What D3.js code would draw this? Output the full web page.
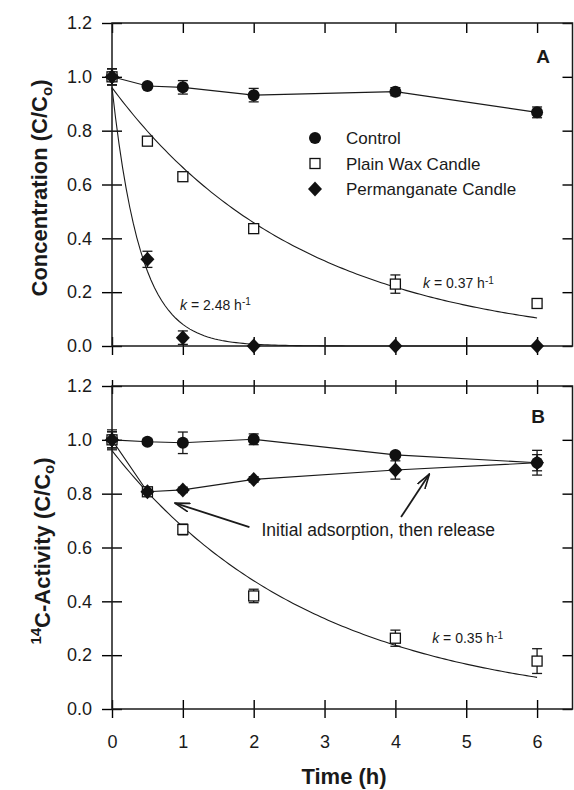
<!DOCTYPE html>
<html>
<head>
<meta charset="utf-8">
<script src="https://cdn.jsdelivr.net/npm/d3@7"></script>
<style>
  body { margin: 0; background: #fff; }
  text { font-family: "Liberation Sans", Arial, sans-serif; fill: #1a1a1a; }
</style>
</head>
<body>
<div id="chart"></div>
<script>
// sampling times (h)
var times = [0, 0.5, 1, 2, 4, 6];

// panel A: concentration C/Co
var concControl = [1.0, 0.966, 0.961, 0.932, 0.945, 0.868];
var concControlErr = [0.03, 0.01, 0.025, 0.025, 0.015, 0.02];
var concWax = [1.0, 0.761, 0.629, 0.436, 0.230, 0.158];
var concWaxErr = [0.03, 0.01, 0.01, 0.01, 0.034, 0.01];
var concPerm = [1.0, 0.322, 0.031, 0.0, 0.0, 0.0];
var concPermErr = [0.03, 0.03, 0.025, 0, 0, 0];

// panel B: 14C activity C/Co
var actControl = [1.0, 0.993, 0.989, 1.002, 0.944, 0.915];
var actControlErr = [0.037, 0.01, 0.04, 0.02, 0.01, 0.046];
var actWax = [1.0, 0.807, 0.667, 0.420, 0.263, 0.178];
var actWaxErr = [0.03, 0.01, 0.02, 0.025, 0.03, 0.046];
var actPerm = [1.0, 0.807, 0.814, 0.853, 0.888, 0.915];
var actPermErr = [0.03, 0.015, 0.01, 0.01, 0.034, 0.03];

// first-order fits, C = a0 * exp(-k t)
var fitWaxA = { a0: 0.96, k: 0.37 };
var fitPermA = { a0: 0.96, k: 2.48 };
var fitWaxB = { a0: 0.96, k: 0.35 };

var yTicks = [0, 0.2, 0.4, 0.6, 0.8, 1.0, 1.2];
var xTicks = [0, 1, 2, 3, 4, 5, 6];
var legendNames = ["Control", "Plain Wax Candle", "Permanganate Candle"];

var width = 574, height = 790;
var left = 112, right = 572.5;

var svg = d3.select("#chart").append("svg")
    .attr("width", width)
    .attr("height", height);

var x = d3.scaleLinear().domain([0, 6.5]).range([left, right]);
var yA = d3.scaleLinear().domain([0, 1.2]).range([346, 23]);
var yB = d3.scaleLinear().domain([0, 1.2]).range([709, 386]);

function diamondPath(cx, cy) {
    var w = 7, h = 7.5;
    return "M" + cx + "," + (cy - h) + "L" + (cx + w) + "," + cy + "L" + cx + "," + (cy + h) + "L" + (cx - w) + "," + cy + "Z";
}

function fitCurve(f) {
    return d3.range(0, 6.001, 0.05).map(function (t) { return [t, f.a0 * Math.exp(-f.k * t)]; });
}

function drawFrame(y, isBottom) {
    var g = svg.append("g");
    // left axis, ticks crossing
    var ax = g.append("g").attr("transform", "translate(" + left + ",0)")
        .call(d3.axisLeft(y).tickValues(yTicks).tickFormat(d3.format(".1f")).tickSizeInner(10).tickSizeOuter(0).tickPadding(10));
    ax.selectAll(".tick line").attr("x1", 10).attr("stroke-width", 1.4);
    ax.selectAll(".tick text").style("font-size", "18px").attr("fill", "#1a1a1a");
    ax.select(".domain").remove();
    // right axis, inside ticks
    var ar = g.append("g").attr("transform", "translate(" + right + ",0)")
        .call(d3.axisRight(y).tickValues(yTicks).tickSizeInner(-10).tickSizeOuter(0).tickFormat(""));
    ar.selectAll(".tick line").attr("stroke-width", 1.4);
    ar.select(".domain").remove();
    // bottom axis, ticks crossing; labels only on the lower panel
    var ab = g.append("g").attr("transform", "translate(0," + y(0) + ")")
        .call(d3.axisBottom(x).tickValues(xTicks).tickSizeInner(9).tickSizeOuter(0).tickPadding(17)
            .tickFormat(isBottom ? d3.format("d") : ""));
    ab.selectAll(".tick line").attr("y1", -9).attr("stroke-width", 1.4);
    ab.selectAll(".tick text").style("font-size", "18px").attr("fill", "#1a1a1a");
    ab.select(".domain").remove();
    // top axis
    var at = g.append("g").attr("transform", "translate(0," + y(1.2) + ")")
        .call(d3.axisTop(x).tickValues(xTicks).tickSizeInner(isBottom ? 6 : -10).tickSizeOuter(0).tickFormat(""));
    at.selectAll(".tick line").attr("stroke-width", 1.4);
    if (isBottom) at.selectAll(".tick line").attr("y1", 8);
    at.select(".domain").remove();
    g.append("rect")
        .attr("x", left).attr("y", y(1.2))
        .attr("width", right - left).attr("height", y(0) - y(1.2))
        .attr("fill", "none").attr("stroke", "#1a1a1a").attr("stroke-width", 1.5);
}

function drawLine(pts, y) {
    var line = d3.line().x(function (d) { return x(d[0]); }).y(function (d) { return y(d[1]); });
    svg.append("path").datum(pts).attr("d", line)
        .attr("fill", "none").attr("stroke", "#1a1a1a").attr("stroke-width", 1.1);
}

function drawErr(vals, errs, y) {
    var g = svg.append("g").attr("stroke", "#1a1a1a").attr("stroke-width", 1.3);
    times.forEach(function (t, i) {
        if (!errs[i]) return;
        var cx = x(t), y1 = y(vals[i] + errs[i]), y2 = y(vals[i] - errs[i]);
        g.append("line").attr("x1", cx).attr("x2", cx).attr("y1", y1).attr("y2", y2);
        g.append("line").attr("x1", cx - 5).attr("x2", cx + 5).attr("y1", y1).attr("y2", y1);
        g.append("line").attr("x1", cx - 5).attr("x2", cx + 5).attr("y1", y2).attr("y2", y2);
    });
}

function drawMarkers(vals, kind, y) {
    var g = svg.append("g");
    times.forEach(function (t, i) {
        drawMarker(g, kind, x(t), y(vals[i]));
    });
}

function drawMarker(g, kind, cx, cy) {
    if (kind == "circle") {
        g.append("circle").attr("cx", cx).attr("cy", cy).attr("r", 6).attr("fill", "#111");
    } else if (kind == "square") {
        g.append("rect").attr("x", cx - 5).attr("y", cy - 5).attr("width", 10).attr("height", 10)
            .attr("fill", "#fff").attr("stroke", "#111").attr("stroke-width", 1.3);
    } else {
        g.append("path").attr("d", diamondPath(cx, cy)).attr("fill", "#111");
    }
}

function kLabel(k, tx, ty, y) {
    var t = svg.append("text").attr("x", x(tx)).attr("y", y(ty)).style("font-size", "14px");
    t.append("tspan").style("font-style", "italic").text("k");
    t.append("tspan").text(" = " + k + " h");
    t.append("tspan").attr("dy", "-0.45em").style("font-size", "10px").text("-1");
}

function yTitle(y, cy, prefix) {
    var t = svg.append("text")
        .attr("transform", "translate(47," + cy + ") rotate(-90)")
        .attr("text-anchor", "middle")
        .style("font-size", "22px").style("font-weight", "bold");
    if (prefix) {
        t.append("tspan").attr("dy", "-0.4em").style("font-size", "15px").text("14");
        t.append("tspan").attr("dy", "0.4em").text("C-Activity (C/C");
    } else {
        t.append("tspan").text("Concentration (C/C");
    }
    t.append("tspan").attr("dy", "0.3em").style("font-size", "15px").text("o");
    t.append("tspan").attr("dy", "-0.2em").text(")");
}

// ---- panel A ----
drawFrame(yA, false);
drawLine(times.map(function (t, i) { return [t, concControl[i]]; }), yA);
drawLine(fitCurve(fitWaxA), yA);
drawLine(fitCurve(fitPermA), yA);
drawErr(concControl, concControlErr, yA);
drawErr(concWax, concWaxErr, yA);
drawErr(concPerm, concPermErr, yA);
drawMarkers(concControl, "circle", yA);
drawMarkers(concWax, "square", yA);
drawMarkers(concPerm, "diamond", yA);
kLabel("2.48", 0.96, 0.134, yA);
kLabel("0.37", 4.39, 0.215, yA);
yTitle(yA, 188, false);
svg.append("text").attr("x", 543).attr("y", 63).attr("text-anchor", "middle")
    .style("font-size", "19px").style("font-weight", "bold").text("A");

// legend
var lg = svg.append("g");
["circle", "square", "diamond"].forEach(function (kind, i) {
    var cy = 138 + i * 25.5;
    drawMarker(lg, kind, 315, cy);
    lg.append("text").attr("x", 346).attr("y", cy + 6).style("font-size", "17px").text(legendNames[i]);
});

// ---- panel B ----
drawFrame(yB, true);
drawLine(times.map(function (t, i) { return [t, actControl[i]]; }), yB);
drawLine(times.map(function (t, i) { return [t, actPerm[i]]; }), yB);
drawLine(fitCurve(fitWaxB), yB);
drawErr(actControl, actControlErr, yB);
drawErr(actWax, actWaxErr, yB);
drawErr(actPerm, actPermErr, yB);
drawMarkers(actControl, "circle", yB);
drawMarkers(actWax, "square", yB);
drawMarkers(actPerm, "diamond", yB);
kLabel("0.35", 4.52, 0.245, yB);
yTitle(yB, 551, true);
svg.append("text").attr("x", 538).attr("y", 423).attr("text-anchor", "middle")
    .style("font-size", "19px").style("font-weight", "bold").text("B");

// annotation with arrows
var defs = svg.append("defs");
defs.append("marker").attr("id", "openArrow")
    .attr("viewBox", "0 0 16 10").attr("refX", 15).attr("refY", 5)
    .attr("markerWidth", 16).attr("markerHeight", 10).attr("markerUnits", "userSpaceOnUse")
    .attr("orient", "auto")
    .append("path").attr("d", "M0,0.5 L15,5 L0,9.5")
    .attr("fill", "none").attr("stroke", "#1a1a1a").attr("stroke-width", 1.6);

var arrows = [
    { from: [1.94, 0.676], to: [0.89, 0.765] },
    { from: [4.08, 0.713], to: [4.48, 0.873] }
];
arrows.forEach(function (a) {
    svg.append("line")
        .attr("x1", x(a.from[0])).attr("y1", yB(a.from[1]))
        .attr("x2", x(a.to[0])).attr("y2", yB(a.to[1]))
        .attr("stroke", "#1a1a1a").attr("stroke-width", 1.8)
        .attr("marker-end", "url(#openArrow)");
});
svg.append("text").attr("x", x(2.11)).attr("y", yB(0.643))
    .style("font-size", "17.5px").text("Initial adsorption, then release");

// x title
svg.append("text").attr("x", 344).attr("y", 784).attr("text-anchor", "middle")
    .style("font-size", "22px").style("font-weight", "bold").text("Time (h)");
</script>
</body>
</html>
